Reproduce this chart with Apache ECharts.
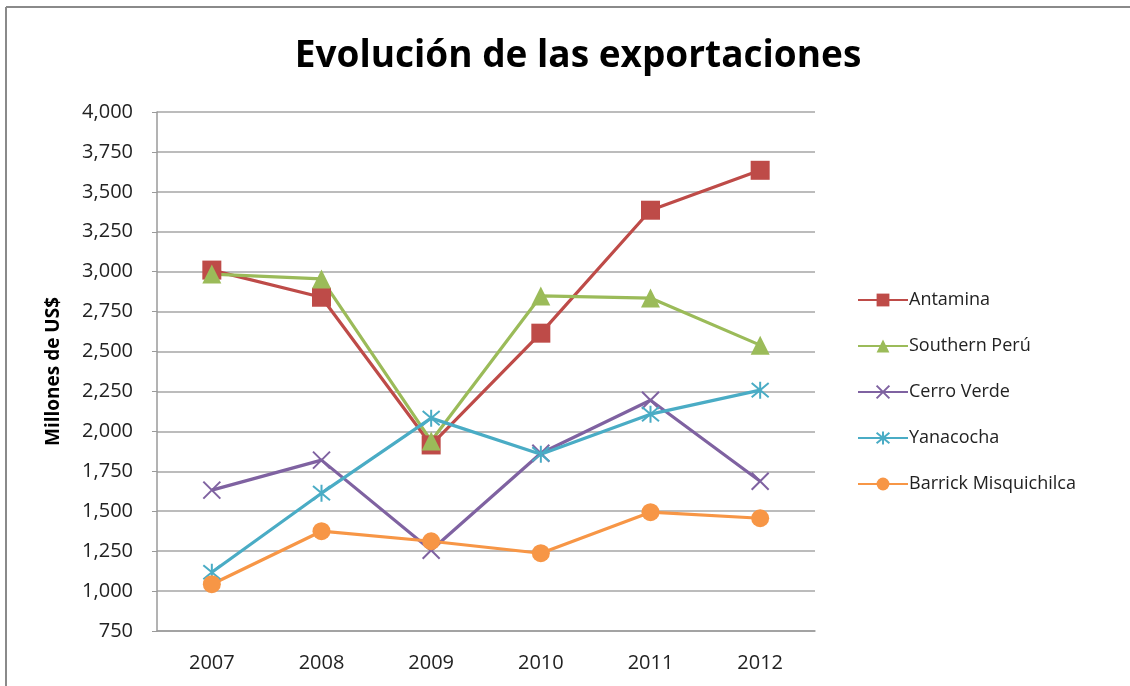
<!DOCTYPE html>
<html>
<head>
<meta charset="utf-8">
<script src="https://cdn.jsdelivr.net/npm/echarts@6/dist/echarts.min.js"></script>
<style>
    html, body { margin: 0; padding: 0; background: #fff; }
    #chart { width: 1130px; height: 686px; }
</style>
</head>
<body>
<div id="chart"></div>
<script>
var years = ['2007', '2008', '2009', '2010', '2011', '2012'];

var antamina = [3010, 2840, 1915, 2615, 3385, 3635];
var southern = [2985, 2955, 1940, 2848, 2835, 2540];
var cerroVerde = [1632, 1820, 1256, 1863, 2195, 1688];
var yanacocha = [1118, 1613, 2083, 1857, 2108, 2258];
var barrick = [1043, 1375, 1312, 1237, 1494, 1456];

var font = 'Open Sans';
var xPath = 'path://M0 0 L10 10 M10 0 L0 10';
var starPath = 'path://M0 0 L10 10 M10 0 L0 10 M5 -1 L5 11';

function make_serie(name, data, color, symbol, size, open){
    return {
        name: name,
        type: 'line',
        data: data,
        symbol: symbol,
        symbolSize: size,
        lineStyle: { color: color, width: 3.2 },
        itemStyle: {
            color: color,
            borderColor: color,
            borderWidth: open ? 2 : 0
        },
        emphasis: { disabled: true }
    };
}

var chart = echarts.init(document.getElementById('chart'));

chart.setOption({
    animation: false,
    title: {
        text: 'Evolución de las exportaciones',
        left: 573,
        top: 33,
        textAlign: 'center',
        textStyle: { fontFamily: font, fontWeight: 'bold', fontSize: 37, color: '#000' }
    },
    graphic: [
        { type: 'line', shape: { x1: 6, y1: 7, x2: 1130, y2: 7 }, style: { stroke: '#8a8a8a', lineWidth: 2 } },
        { type: 'line', shape: { x1: 6, y1: 7, x2: 6, y2: 686 }, style: { stroke: '#8a8a8a', lineWidth: 2 } }
    ],
    legend: {
        orient: 'vertical',
        left: 852,
        top: 286,
        itemGap: 28,
        itemWidth: 50,
        itemHeight: 16,
        textStyle: { fontFamily: font, fontSize: 18, color: '#222', padding: [0, 0, 0, -4] },
        data: ['Antamina', 'Southern Perú', 'Cerro Verde', 'Yanacocha', 'Barrick Misquichilca']
    },
    grid: { left: 157, right: 315, top: 112, bottom: 55 },
    xAxis: {
        type: 'category',
        data: years,
        boundaryGap: true,
        axisLine: { lineStyle: { color: '#9a9a9a', width: 1.5 } },
        axisTick: { show: false },
        axisLabel: { fontFamily: font, fontSize: 20, color: '#222', margin: 22 }
    },
    yAxis: {
        type: 'value',
        min: 750,
        max: 4000,
        interval: 250,
        name: 'Millones de US$',
        nameLocation: 'middle',
        nameGap: 94,
        nameTextStyle: { fontFamily: font, fontWeight: 'bold', fontSize: 19, color: '#000' },
        axisLine: { show: true, lineStyle: { color: '#9a9a9a', width: 1.5 } },
        axisTick: { show: true, length: 5, lineStyle: { color: '#9a9a9a' } },
        splitLine: { lineStyle: { color: '#a6a6a6', width: 1.5 } },
        axisLabel: {
            fontFamily: font, fontSize: 20, color: '#222', margin: 24,
            formatter: function (v) { return v.toLocaleString('en-US'); }
        }
    },
    series: [
        make_serie('Antamina', antamina, '#be4b48', 'rect', 19, false),
        make_serie('Southern Perú', southern, '#9bbb59', 'triangle', 19, false),
        make_serie('Cerro Verde', cerroVerde, '#7f62a1', xPath, 17, true),
        make_serie('Yanacocha', yanacocha, '#4aacc5', starPath, 17, true),
        make_serie('Barrick Misquichilca', barrick, '#f79646', 'circle', 18, false)
    ]
});
</script>
</body>
</html>
